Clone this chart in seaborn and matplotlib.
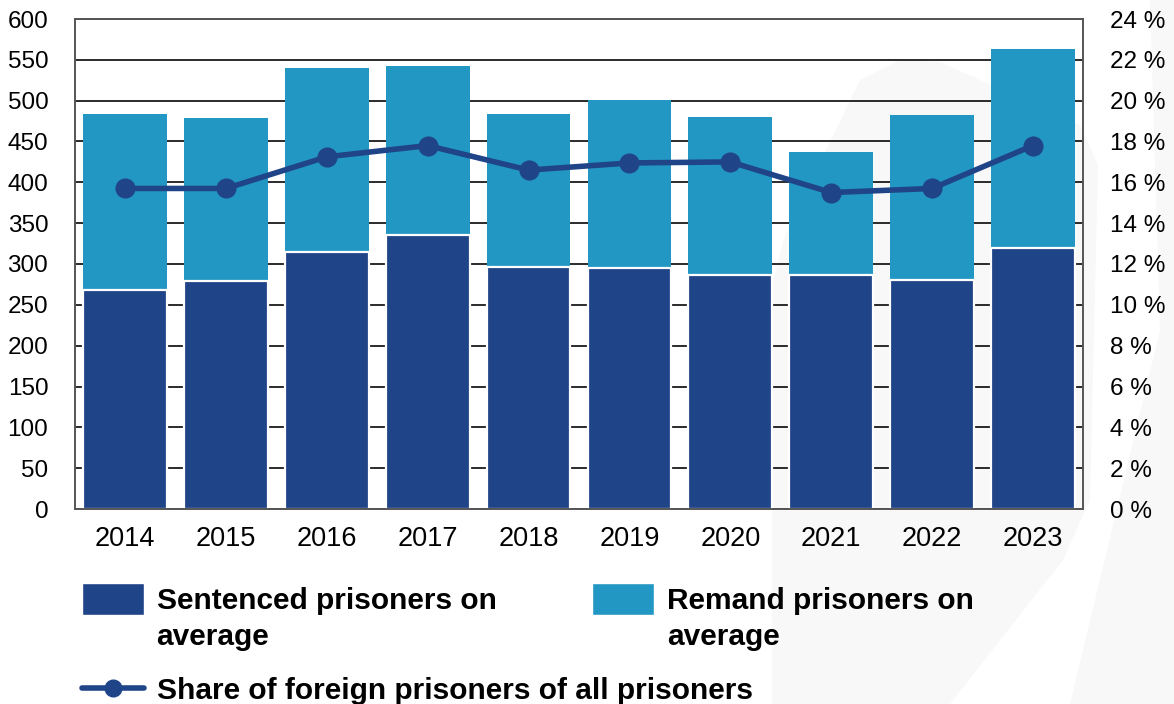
import matplotlib
matplotlib.use("Agg")
import matplotlib.pyplot as plt
import seaborn as sns
import pandas as pd
from matplotlib.patches import Patch, Polygon
from matplotlib.lines import Line2D
from matplotlib.ticker import FuncFormatter, MultipleLocator

years = ["2014", "2015", "2016", "2017", "2018", "2019", "2020", "2021", "2022", "2023"]
sentenced = [268, 279, 315, 335, 296, 295, 286, 287, 280, 320]
remand = [216, 200, 225, 207, 188, 206, 194, 150, 203, 243]
foreign_share = [15.7, 15.7, 17.25, 17.8, 16.6, 16.95, 17.0, 15.5, 15.7, 17.8]

DARK = "#1f4488"
LIGHT = "#2397c3"
W, H = 1174, 704

sns.set_theme(style="white")
plt.rcParams["font.family"] = ["Liberation Sans", "DejaVu Sans"]
plt.rcParams["text.color"] = "black"

df = pd.DataFrame({"year": years, "sentenced": sentenced, "remand": remand, "share": foreign_share})
df["total"] = df["sentenced"] + df["remand"]

fig = plt.figure(figsize=(W / 100, H / 100), dpi=100)


def px(pts):
    return [(x / W, 1 - y / H) for x, y in pts]


# faint background watermark shapes
fig.patches.append(Polygon(px([(772, 704), (772, 285), (785, 235), (860, 80), (900, 60),
                               (940, 62), (1080, 125), (1098, 165), (1090, 500), (1063, 560), (950, 704)]),
                           closed=True, transform=fig.transFigure, facecolor="#f8f8f8",
                           edgecolor="none", zorder=-10))
fig.patches.append(Polygon(px([(1150, 0), (1174, 0), (1174, 704), (1070, 704), (1160, 330)]),
                           closed=True, transform=fig.transFigure, facecolor="#f8f8f8",
                           edgecolor="none", zorder=-10))

ax = fig.add_axes([74.7 / W, 1 - 509 / H, (1083.3 - 74.7) / W, (509 - 19) / H])
ax.patch.set_alpha(0)

sns.barplot(data=df, x="year", y="total", color=LIGHT, saturation=1, width=0.83,
            ax=ax, linewidth=0, zorder=2)
sns.barplot(data=df, x="year", y="sentenced", color=DARK, saturation=1, width=0.83,
            ax=ax, edgecolor="white", linewidth=1.6, zorder=2)

ax.set_ylim(0, 600)
ax.yaxis.set_major_locator(MultipleLocator(50))
ax.set_axisbelow(True)
ax.grid(axis="y", color="#1a1a1a", linewidth=1.3, zorder=0)
ax.grid(axis="x", visible=False)
ax.set_xlabel("")
ax.set_ylabel("")
for s in ax.spines.values():
    s.set_visible(True)
    s.set_color("#555555")
    s.set_linewidth(1.4)
ax.tick_params(axis="y", length=0, pad=19, labelsize=17.5, colors="black")
ax.tick_params(axis="x", length=0, pad=12, labelsize=19.5, colors="black")

ax2 = ax.twinx()
sns.pointplot(data=df, x="year", y="share", ax=ax2, color=DARK, markers="o",
              markersize=11.5, linewidth=4, errorbar=None)
ax2.set_ylim(0, 24)
ax2.yaxis.set_major_locator(MultipleLocator(2))
ax2.yaxis.set_major_formatter(FuncFormatter(lambda v, p: f"{int(round(v))} %"))
ax2.tick_params(axis="y", length=0, pad=19, labelsize=17.5, colors="black")
ax2.set_ylabel("")
ax2.grid(False)
ax2.patch.set_alpha(0)
for s in ax2.spines.values():
    s.set_visible(False)
ax2.set_xlim(ax.get_xlim())

fs = 21.5
prop = {"weight": "bold", "size": fs}
blank = Patch(facecolor="none", edgecolor="none")
leg1 = fig.legend(
    handles=[Patch(facecolor=DARK), blank, Patch(facecolor=LIGHT), blank],
    labels=["Sentenced prisoners on", "average", "Remand prisoners on", "average"],
    ncol=2, loc="upper left", bbox_to_anchor=(70 / W, 1 - 571 / H),
    frameon=False, prop=prop, handlelength=2.07, handleheight=1.3,
    handletextpad=0.43, columnspacing=3.2, labelspacing=0.12, borderaxespad=0,
)
leg2 = fig.legend(
    handles=[Line2D([], [], color=DARK, linewidth=4, marker="o", markersize=12)],
    labels=["Share of foreign prisoners of all prisoners"],
    loc="upper left", bbox_to_anchor=(70 / W, 1 - 665 / H),
    frameon=False, prop=prop, handlelength=2.07, handletextpad=0.43, borderaxespad=0,
)

fig.savefig("out.png", dpi=100)
